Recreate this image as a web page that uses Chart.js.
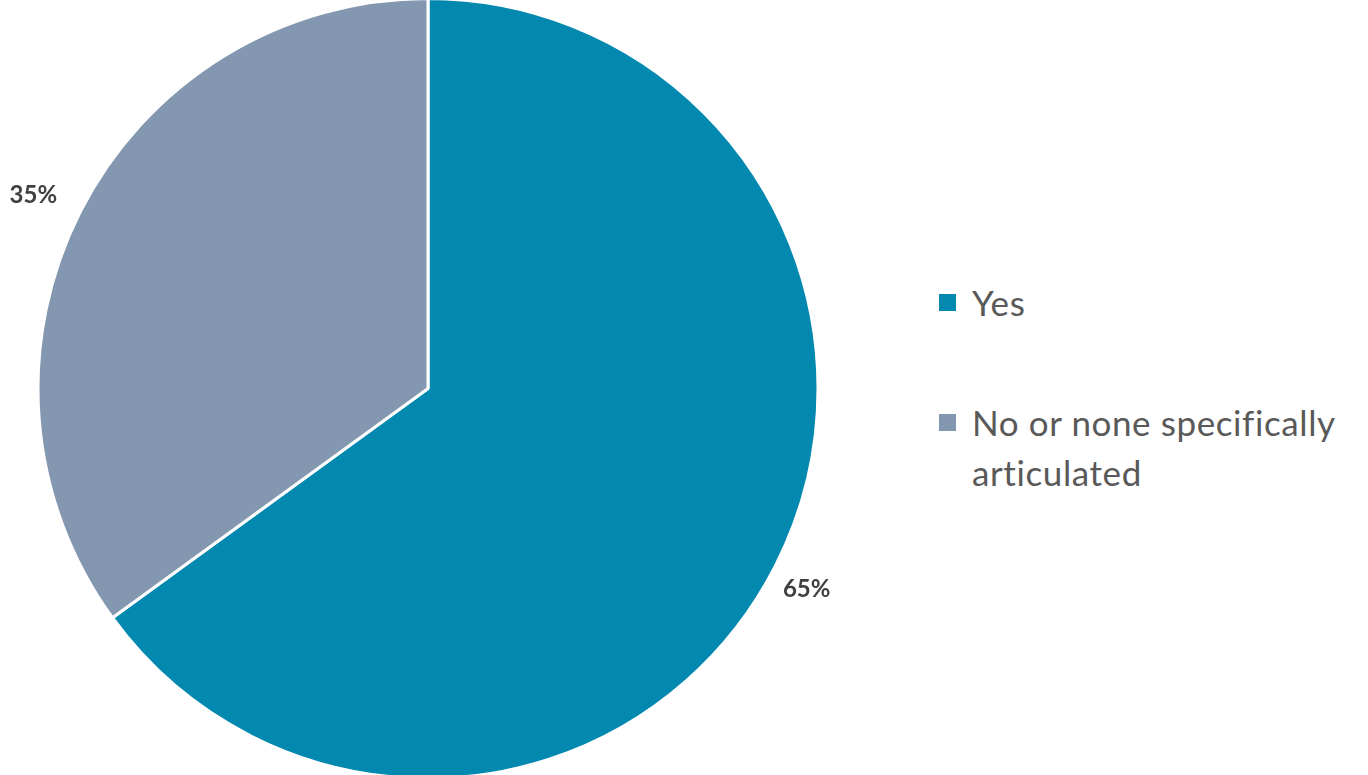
<!DOCTYPE html>
<html>
<head>
<meta charset="utf-8">
<script src="https://cdn.jsdelivr.net/npm/chart.js@4"></script>
<style>
  body { margin: 0; background: #fff; width: 1368px; height: 775px; overflow: hidden; position: relative; }
  #chart-wrap { position: absolute; left: 0; top: -3px; width: 856px; height: 783px; }
  #legend { position: absolute; left: 939px; top: 277px; font-family: Lato, "Open Sans", sans-serif; font-size: 35px; letter-spacing: 0.6px; color: #595959; white-space: nowrap; }
  .item { display: flex; align-items: flex-start; margin-bottom: 70px; }
  .box { width: 17px; height: 17px; margin-top: 17px; margin-right: 16px; flex: none; }
  .txt { line-height: 50px; }
</style>
</head>
<body>
<div id="chart-wrap"><canvas id="pie-chart"></canvas></div>
<div id="legend"></div>
<script>
const labels = ["Yes", "No or none specifically articulated"];
const legendLines = [["Yes"], ["No or none specifically", "articulated"]];
const values = [65, 35];
const colors = ["#0388B0", "#8497B0"];

const pieChart = document.getElementById("pie-chart");

// percent labels drawn just outside each slice
const outsideLabels = {
  id: "outsideLabels",
  afterDatasetsDraw(chart) {
    const ctx = chart.ctx;
    const meta = chart.getDatasetMeta(0);
    ctx.save();
    ctx.font = "bold 24px Lato, 'Open Sans', sans-serif";
    ctx.fillStyle = "#404040";
    ctx.textAlign = "center";
    ctx.textBaseline = "middle";
    meta.data.forEach((arc, i) => {
      const p = arc.getProps(["x", "y", "startAngle", "endAngle", "outerRadius"], true);
      const mid = (p.startAngle + p.endAngle) / 2;
      const r = p.outerRadius + 44;
      ctx.fillText(values[i] + "%", p.x + Math.cos(mid) * r - 8, p.y + Math.sin(mid) * r + 4);
    });
    ctx.restore();
  },
};

new Chart(pieChart, {
  type: "pie",
  data: {
    labels: labels,
    datasets: [
      {
        data: values,
        backgroundColor: colors,
        borderColor: "#ffffff",
        borderWidth: 3,
      },
    ],
  },
  options: {
    responsive: true,
    maintainAspectRatio: false,
    animation: false,
    plugins: {
      legend: { display: false },
      tooltip: { enabled: false },
    },
  },
  plugins: [outsideLabels],
});

// html legend so the long label can wrap like the original
const legendEl = document.getElementById("legend");
labels.forEach((l, i) => {
  const item = document.createElement("div");
  item.className = "item";
  const box = document.createElement("div");
  box.className = "box";
  box.style.background = colors[i];
  const txt = document.createElement("div");
  txt.className = "txt";
  txt.innerHTML = legendLines[i].join("<br>");
  item.appendChild(box);
  item.appendChild(txt);
  legendEl.appendChild(item);
});
</script>
</body>
</html>
